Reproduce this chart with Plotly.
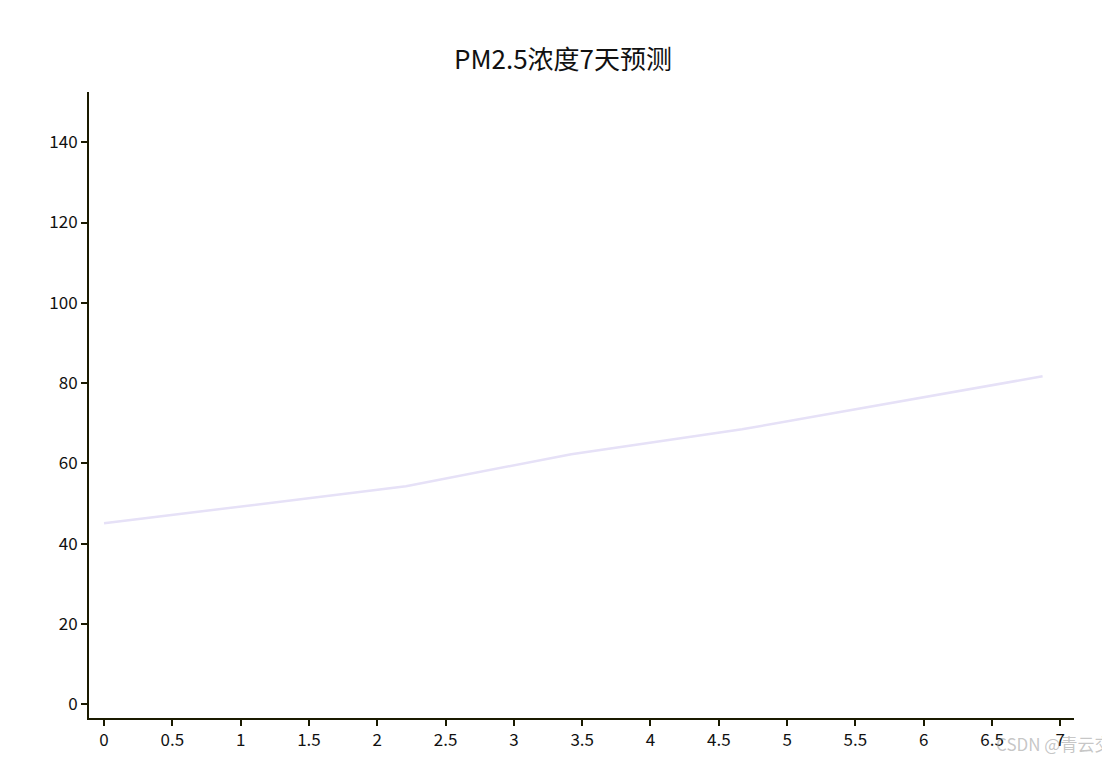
import plotly.graph_objects as go

days = [0, 2.21, 3.42, 4.67, 6.87]
pm25 = [45.1, 54.3, 62.3, 68.5, 81.7]
x_ticks = [0, 0.5, 1, 1.5, 2, 2.5, 3, 3.5, 4, 4.5, 5, 5.5, 6, 6.5, 7]
y_ticks = [0, 20, 40, 60, 80, 100, 120, 140]

fig = go.Figure(go.Scatter(x=days, y=pm25, mode="lines",
                           line=dict(color="#e6e1f7", width=2.5), showlegend=False))
fig.update_layout(
    width=1110, height=770, paper_bgcolor="white", plot_bgcolor="white",
    margin=dict(l=81, r=44, t=84, b=60),
    font=dict(family="Noto Sans CJK SC", size=17, color="#111"),
    title=dict(text="PM2.5浓度7天预测", x=0.5, xanchor="center", y=0.945, font=dict(size=26)),
    xaxis=dict(range=[-0.11, 7.1], tickvals=x_ticks, ticktext=[f"{v:g}" for v in x_ticks],
               showline=True, linecolor="#1a1a00", linewidth=2, ticks="outside",
               ticklen=6, tickwidth=2, tickcolor="#1a1a00", showgrid=False, zeroline=False),
    yaxis=dict(range=[-3.4, 152.5], tickvals=y_ticks, showline=True, linecolor="#1a1a00",
               linewidth=2, ticks="outside", ticklen=6, tickwidth=2, tickcolor="#1a1a00",
               showgrid=False, zeroline=False),
    annotations=[dict(text="CSDN @青云交", xref="paper", yref="paper", x=1.04, y=-0.018,
                      xanchor="right", yanchor="top", showarrow=False,
                      font=dict(size=17, color="rgba(150,150,150,0.55)"))],
)
fig.write_html("out.html")
